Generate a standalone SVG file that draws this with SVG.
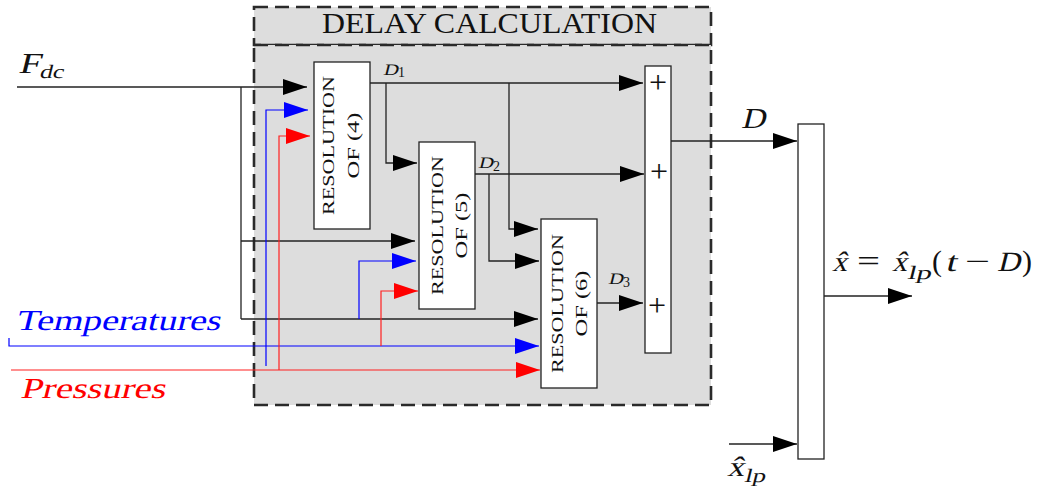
<svg xmlns="http://www.w3.org/2000/svg" width="1038" height="486" viewBox="0 0 1038 486">
<style>
.dash{fill:#dddddd;stroke:#2a2a2a;stroke-width:2.6;stroke-dasharray:14 7}
.box{fill:#ffffff;stroke:#222;stroke-width:1.3}
.k{fill:none;stroke:#222;stroke-width:1.3}
.b{fill:none;stroke:#0000ff;stroke-width:1.2}
.r{fill:none;stroke:#ff2020;stroke-width:1.2}
.t{font-family:"Liberation Serif","Times New Roman",serif;fill:#111}
.res{font-family:"Liberation Serif","Times New Roman",serif;font-size:17px;fill:#111;text-anchor:middle}
</style>
<defs>
<marker id="ak" markerUnits="userSpaceOnUse" markerWidth="24" markerHeight="16" refX="24" refY="8" orient="auto" viewBox="0 0 24 16"><path d="M0,0L24,8L0,16z" fill="#000"/></marker>
<marker id="ab" markerUnits="userSpaceOnUse" markerWidth="24" markerHeight="16" refX="24" refY="8" orient="auto" viewBox="0 0 24 16"><path d="M0,0L24,8L0,16z" fill="#0000ff"/></marker>
<marker id="ar" markerUnits="userSpaceOnUse" markerWidth="24" markerHeight="16" refX="24" refY="8" orient="auto" viewBox="0 0 24 16"><path d="M0,0L24,8L0,16z" fill="#ff0000"/></marker>
</defs>

<g id="delay-calculation">
<rect class="dash" x="254" y="7" width="457" height="38"/>
<rect class="dash" x="254" y="45" width="457" height="360"/>
<text class="t" x="322" y="33" font-size="29" textLength="335" lengthAdjust="spacingAndGlyphs">DELAY CALCULATION</text>
</g>

<g id="connectors">
<path class="k" d="M17,87H307" marker-end="url(#ak)"/>
<path class="k" d="M241,87V319"/>
<path class="k" d="M241,241H415" marker-end="url(#ak)"/>
<path class="k" d="M241,319H538" marker-end="url(#ak)"/>
<path class="k" d="M370,83H643" marker-end="url(#ak)"/>
<path class="k" d="M386,83V163H417" marker-end="url(#ak)"/>
<path class="k" d="M509,83V229H538" marker-end="url(#ak)"/>
<path class="k" d="M475,174H644" marker-end="url(#ak)"/>
<path class="k" d="M489,174V261H539" marker-end="url(#ak)"/>
<path class="k" d="M597,303H643" marker-end="url(#ak)"/>
<path class="k" d="M671,141H797" marker-end="url(#ak)"/>
<path class="k" d="M824,296H912" marker-end="url(#ak)"/>
<path class="k" d="M729,444H797" marker-end="url(#ak)"/>
<path class="b" d="M9,338V346H539" marker-end="url(#ab)"/>
<path class="b" d="M266,366V110H308" marker-end="url(#ab)"/>
<path class="b" d="M359,319V261H416" marker-end="url(#ab)"/>
<path class="r" d="M11,370H540" marker-end="url(#ar)"/>
<path class="r" d="M279,370V136H310" marker-end="url(#ar)"/>
<path class="r" d="M381,346V291H418" marker-end="url(#ar)"/>
</g>

<g id="resolution-4">
<rect class="box" x="314" y="62" width="56" height="167"/>
<text class="res" transform="translate(334,145.5) rotate(-90)" textLength="139" lengthAdjust="spacingAndGlyphs">RESOLUTION</text>
<text class="res" transform="translate(359,145.5) rotate(-90)" textLength="66" lengthAdjust="spacingAndGlyphs">OF (4)</text>
</g>

<g id="resolution-5">
<rect class="box" x="419" y="142" width="56" height="167"/>
<text class="res" transform="translate(443,225.5) rotate(-90)" textLength="139" lengthAdjust="spacingAndGlyphs">RESOLUTION</text>
<text class="res" transform="translate(467,225.5) rotate(-90)" textLength="66" lengthAdjust="spacingAndGlyphs">OF (5)</text>
</g>

<g id="resolution-6">
<rect class="box" x="541" y="219" width="56" height="169"/>
<text class="res" transform="translate(563,303.5) rotate(-90)" textLength="139" lengthAdjust="spacingAndGlyphs">RESOLUTION</text>
<text class="res" transform="translate(587,303.5) rotate(-90)" textLength="66" lengthAdjust="spacingAndGlyphs">OF (6)</text>
</g>

<g id="sum">
<rect class="box" x="645" y="66" width="26" height="287"/>
<text class="t" x="658" y="93" font-size="32" text-anchor="middle">+</text>
<text class="t" x="659" y="182" font-size="32" text-anchor="middle">+</text>
<text class="t" x="657" y="316" font-size="32" text-anchor="middle">+</text>
</g>

<g id="delay-block">
<rect class="box" x="798" y="124" width="26" height="335"/>
</g>

<g id="labels">
<text class="t" transform="translate(18,73) skewX(-14)" font-size="29" textLength="22" lengthAdjust="spacingAndGlyphs">F</text>
<text class="t" transform="translate(39,78) skewX(-14)" font-size="19" textLength="24" lengthAdjust="spacingAndGlyphs">dc</text>
<text class="t" transform="translate(15,330) skewX(-14)" font-size="29" style="fill:#0000ff" textLength="205" lengthAdjust="spacingAndGlyphs">Temperatures</text>
<text class="t" transform="translate(20,398) skewX(-14)" font-size="29" style="fill:#ff0000" textLength="145" lengthAdjust="spacingAndGlyphs">Pressures</text>
<text class="t" transform="translate(741,128) skewX(-14)" font-size="29" textLength="24" lengthAdjust="spacingAndGlyphs">D</text>
<text class="t" transform="translate(383,75) skewX(-14)" font-size="16" textLength="15" lengthAdjust="spacingAndGlyphs">D</text>
<text class="t" x="398" y="77" font-size="14">1</text>
<text class="t" transform="translate(478,168) skewX(-14)" font-size="16" textLength="15" lengthAdjust="spacingAndGlyphs">D</text>
<text class="t" x="493" y="171" font-size="14">2</text>
<text class="t" transform="translate(608,284) skewX(-14)" font-size="16" textLength="15" lengthAdjust="spacingAndGlyphs">D</text>
<text class="t" x="623" y="287" font-size="14">3</text>
<text class="t" transform="translate(832,271) skewX(-14)" font-size="28" textLength="15" lengthAdjust="spacingAndGlyphs">x̂</text>
<text class="t" x="857" y="271" font-size="29" textLength="23" lengthAdjust="spacingAndGlyphs">=</text>
<text class="t" transform="translate(892,271) skewX(-14)" font-size="28" textLength="15" lengthAdjust="spacingAndGlyphs">x̂</text>
<text class="t" transform="translate(907,279) skewX(-14)" font-size="19" textLength="24" lengthAdjust="spacingAndGlyphs">lp</text>
<text class="t" x="932" y="271" font-size="29" textLength="10" lengthAdjust="spacingAndGlyphs">(</text>
<text class="t" transform="translate(945,271) skewX(-14)" font-size="28" textLength="11" lengthAdjust="spacingAndGlyphs">t</text>
<text class="t" x="965" y="271" font-size="29" textLength="25" lengthAdjust="spacingAndGlyphs">−</text>
<text class="t" transform="translate(997,271) skewX(-14)" font-size="28" textLength="23" lengthAdjust="spacingAndGlyphs">D</text>
<text class="t" x="1022" y="271" font-size="29" textLength="10" lengthAdjust="spacingAndGlyphs">)</text>
<text class="t" transform="translate(727,476) skewX(-14)" font-size="28" textLength="17" lengthAdjust="spacingAndGlyphs">x̂</text>
<text class="t" transform="translate(744,482) skewX(-14)" font-size="19" textLength="21" lengthAdjust="spacingAndGlyphs">lp</text>
</g>
</svg>
